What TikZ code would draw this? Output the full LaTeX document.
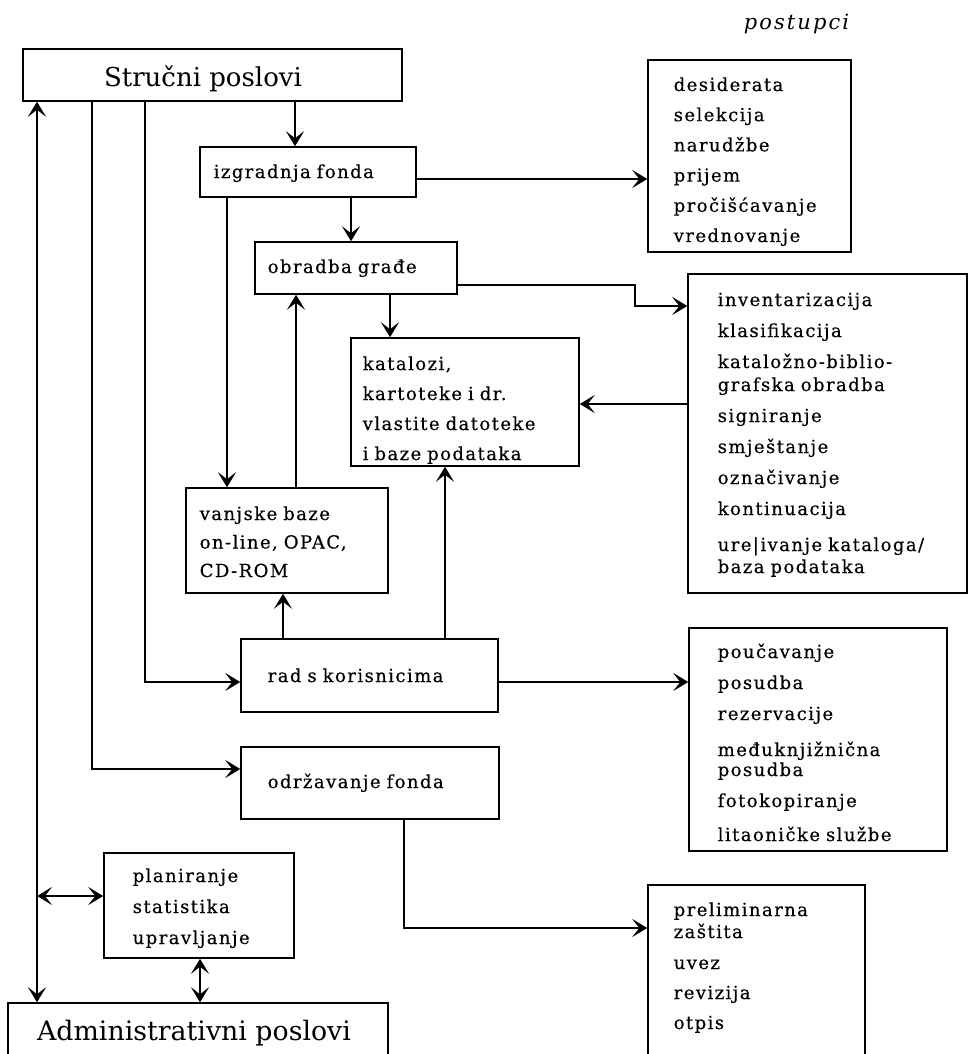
\documentclass[tikz,border=0pt]{standalone}
\usepackage{fontspec}
\setmainfont{DejaVu Serif}
\newfontfamily\df[LetterSpace=8,FakeBold=0.4]{DejaVu Serif}
\newfontfamily\dfp[LetterSpace=10]{DejaVu Serif}
\newfontfamily\dfb{DejaVu Serif}
\usetikzlibrary{arrows.meta}
\begin{document}
\begin{tikzpicture}[x=1pt,y=-1pt,line width=1.5pt,
  box/.style={draw,line width=1.5pt,inner sep=0pt,rectangle},
  txt/.style={inner sep=0pt,anchor=base west,align=left,text width=260pt,font=\df\fontsize{18}{30}\selectfont},
  big/.style={inner sep=0pt,anchor=base,font=\dfb\fontsize{26}{30}\selectfont},
  arr/.style={-{Stealth[length=15pt,width=18pt,inset=7pt]}},
  dar/.style={{Stealth[length=15pt,width=18pt,inset=7pt]}-{Stealth[length=15pt,width=18pt,inset=7pt]}}]
\fill[white] (0,0) rectangle (969,1054);
\clip (0,0) rectangle (969,1054);
% boxes
\node[box,minimum width=379pt,minimum height=52pt] (stru) at (212.5,75) {};
\node[box,minimum width=216pt,minimum height=50pt] (izg) at (308,172) {};
\node[box,minimum width=203pt,minimum height=192pt] (des) at (749.5,156) {};
\node[box,minimum width=202pt,minimum height=52pt] (obr) at (356,268) {};
\node[box,minimum width=279pt,minimum height=319pt] (inv) at (827.5,433.5) {};
\node[box,minimum width=228pt,minimum height=128pt] (kat) at (465,402) {};
\node[box,minimum width=202pt,minimum height=105pt] (vb) at (287,540.5) {};
\node[box,minimum width=257pt,minimum height=73pt] (rad) at (369.5,675.5) {};
\node[box,minimum width=258pt,minimum height=223pt] (pou) at (818,739.5) {};
\node[box,minimum width=258pt,minimum height=72pt] (odr) at (370,783) {};
\node[box,minimum width=190pt,minimum height=105pt] (plan) at (199,905.5) {};
\node[box,minimum width=217pt,minimum height=185pt] (prel) at (756.5,977.5) {};
\node[box,minimum width=380pt,minimum height=67pt] (adm) at (198,1036.5) {};
% texts
\node[inner sep=0pt,anchor=base west,font=\dfp\itshape\fontsize{21}{24}\selectfont] (post) at (743,30) {postupci};
\node[big] (strut) at (203,87) {Stručni poslovi};
\node[big,font=\dfb\fontsize{26.8}{30}\selectfont] (admt) at (194,1040) {Administrativni poslovi};
\node[txt] (izgt) at (213,178) {izgradnja fonda};
\node[txt] (obrt) at (267,273) {obradba građe};
\node[txt] (radt) at (267,682) {rad s korisnicima};
\node[txt] (odrt) at (267,788) {održavanje fonda};
\node[txt,font=\df\fontsize{18}{30.2}\selectfont] (dest) at (673,91) {desiderata\\selekcija\\narudžbe\\prijem\\pročišćavanje\\vrednovanje};
\node[txt,font=\df\fontsize{18}{31}\selectfont] (invt) at (717,306) {inventarizacija\\klasifikacija\\kataložno-biblio-\\[-8pt]grafska obradba\\signiranje\\smještanje\\označivanje\\kontinuacija\\[5pt]ure|ivanje kataloga/\\[-9pt]baza podataka};
\node[txt,font=\df\fontsize{18}{30}\selectfont] (katt) at (362,370) {katalozi,\\kartoteke i dr.\\vlastite datoteke\\i baze podataka};
\node[txt,font=\df\fontsize{18}{28.5}\selectfont] (vbt) at (199,520) {vanjske baze\\on-line, OPAC,\\CD-ROM};
\node[txt,font=\df\fontsize{18}{31}\selectfont] (pout) at (717,658) {poučavanje\\posudba\\rezervacije\\[5pt]međuknjižnična\\[-11pt]posudba\\fotokopiranje\\[3pt]litaoničke službe};
\node[txt,font=\df\fontsize{18}{31}\selectfont] (plant) at (132,882) {planiranje\\statistika\\upravljanje};
\node[txt,font=\df\fontsize{18}{30}\selectfont] (prelt) at (673,916) {preliminarna\\[-8pt]zaštita\\[1pt]uvez\\revizija\\otpis};
% helper coordinates
\coordinate (xA) at (37,0);
\coordinate (xB) at (92,0);
\coordinate (xC) at (145,0);
\coordinate (xD) at (295,0);
\coordinate (xE) at (351,0);
\coordinate (xF) at (227,0);
\coordinate (xG) at (296,0);
\coordinate (xH) at (390,0);
\coordinate (xI) at (445,0);
\coordinate (xJ) at (283,0);
\coordinate (xK) at (404,0);
\coordinate (xM) at (200,0);
\coordinate (yB) at (0,769);
\coordinate (yC) at (0,682);
\coordinate (yIzg) at (0,179);
\coordinate (yKat) at (0,404);
\coordinate (yPrel) at (0,928);
\coordinate (j1) at (635,285);
\coordinate (j2) at (635,306);
\coordinate (pl1) at (37,896);
% connectors
\draw[dar] (stru.south -| xA) -- (adm.north -| xA);
\draw[dar] (pl1) -- (plan.west |- pl1);
\draw[dar] (plan.south -| xM) -- (adm.north -| xM);
\draw[arr] (stru.south -| xB) |- (odr.west |- yB);
\draw[arr] (stru.south -| xC) |- (rad.west |- yC);
\draw[arr] (stru.south -| xD) -- (izg.north -| xD);
\draw[arr] (izg.east |- yIzg) -- (des.west |- yIzg);
\draw[arr] (izg.south -| xE) -- (obr.north -| xE);
\draw[arr] (izg.south -| xF) -- (vb.north -| xF);
\draw[arr] (vb.north -| xG) -- (obr.south -| xG);
\draw[arr] (obr.south -| xH) -- (kat.north -| xH);
\draw[arr] (obr.east |- j1) -- (j1) -- (j2) -- (inv.west |- j2);
\draw[arr] (inv.west |- yKat) -- (kat.east |- yKat);
\draw[arr] (rad.north -| xJ) -- (vb.south -| xJ);
\draw[arr] (rad.north -| xI) -- (kat.south -| xI);
\draw[arr] (rad.east |- yC) -- (pou.west |- yC);
\draw[arr] (odr.south -| xK) |- (prel.west |- yPrel);
\end{tikzpicture}
\end{document}
